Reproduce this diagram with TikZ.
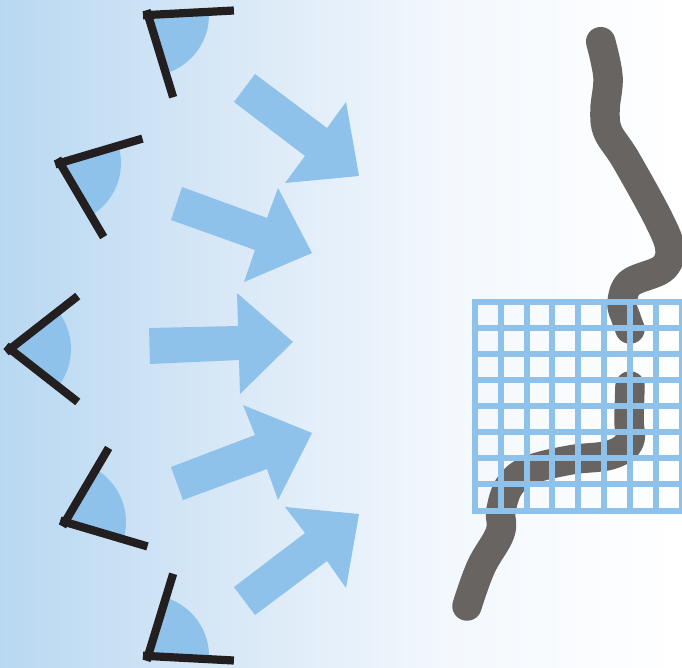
\documentclass[tikz,border=0pt]{standalone}
\definecolor{lampblue}{RGB}{142,194,234}
\definecolor{lampblack}{RGB}{35,31,32}
\definecolor{wormgrey}{RGB}{103,100,98}
\pgfdeclarehorizontalshading{bgshade}{100bp}{
  rgb(0bp)=(0.722,0.847,0.945);
  rgb(25bp)=(0.722,0.847,0.945);
  rgb(42.6bp)=(0.855,0.914,0.969);
  rgb(58bp)=(0.953,0.973,0.992);
  rgb(75bp)=(1,1,1);
  rgb(100bp)=(1,1,1)}
\tikzset{
  bluearrow/.style={fill=lampblue,draw=none},
  arm/.style={draw=lampblack,line width=8.2pt},
  worm/.style={draw=wormgrey,line width=29.5pt,line cap=round,line join=round},
  gridline/.style={draw=lampblue,line width=5.8pt}
}
\newcommand{\lampat}[3]{%
  \begin{scope}[shift={(#1,#2)},rotate=#3]
    \fill[lampblue] (0,0) -- (-38:61pt) arc[start angle=-38,end angle=38,radius=61pt] -- cycle;
    \draw[arm] (218:5pt) -- (38:86pt);
    \draw[arm] (142:5pt) -- (-38:86pt);
  \end{scope}}
\begin{document}
\begin{tikzpicture}[x=1pt,y=-1pt]
\useasboundingbox (0,0) rectangle (682,667);
\clip (0,0) rectangle (682,667);
\shade[shading=bgshade,draw=none] (0,0) rectangle (682,667);
% arrows
\fill[bluearrow] (255,74) -- (327,128) -- (346,102) -- (359,176) -- (285,183) -- (305,156) -- (234,102) -- cycle;
\fill[bluearrow] (182,187) -- (267,218) -- (278,188) -- (312,253) -- (244,282) -- (255,250) -- (171,220) -- cycle;
\fill[bluearrow] (149,328) -- (238,326) -- (237,293) -- (293,342) -- (240,394) -- (239,360) -- (150,364) -- cycle;
\fill[bluearrow] (171,467) -- (255,435) -- (243,405) -- (312,433) -- (278,500) -- (267,469) -- (183,500) -- cycle;
\fill[bluearrow] (234,587) -- (305,533) -- (285,507) -- (359,514) -- (346,588) -- (327,561) -- (255,615) -- cycle;
% lamps
\lampat{148}{15}{-35}
\lampat{60}{163}{-21.5}
\lampat{10}{349}{0}
\lampat{65}{522}{21.5}
\lampat{148}{656}{35}
% worm
\draw[worm] plot[smooth,tension=0.6] coordinates {(600.7,41.7) (608,77) (605,110) (608,132) (626,160) (659,220) (670,250) (662,269) (630,283) (622,303) (626,318) (630,329)};
\draw[worm] plot[smooth,tension=0.65] coordinates {(630,386) (629,420) (629,442) (610,455) (570,460) (530,470) (510,485) (501,510) (500,533) (481,567) (467,606)};
% grid
\foreach \gx in {475,500.7,526.7,552.3,578.3,604,630,655.7,681.7}
  \draw[gridline] (\gx,299.5) -- (\gx,513.5);
\foreach \gy in {302.3,328.3,354,380,406,431.7,458.3,484.3,510.7}
  \draw[gridline] (472,\gy) -- (682,\gy);
\end{tikzpicture}
\end{document}
